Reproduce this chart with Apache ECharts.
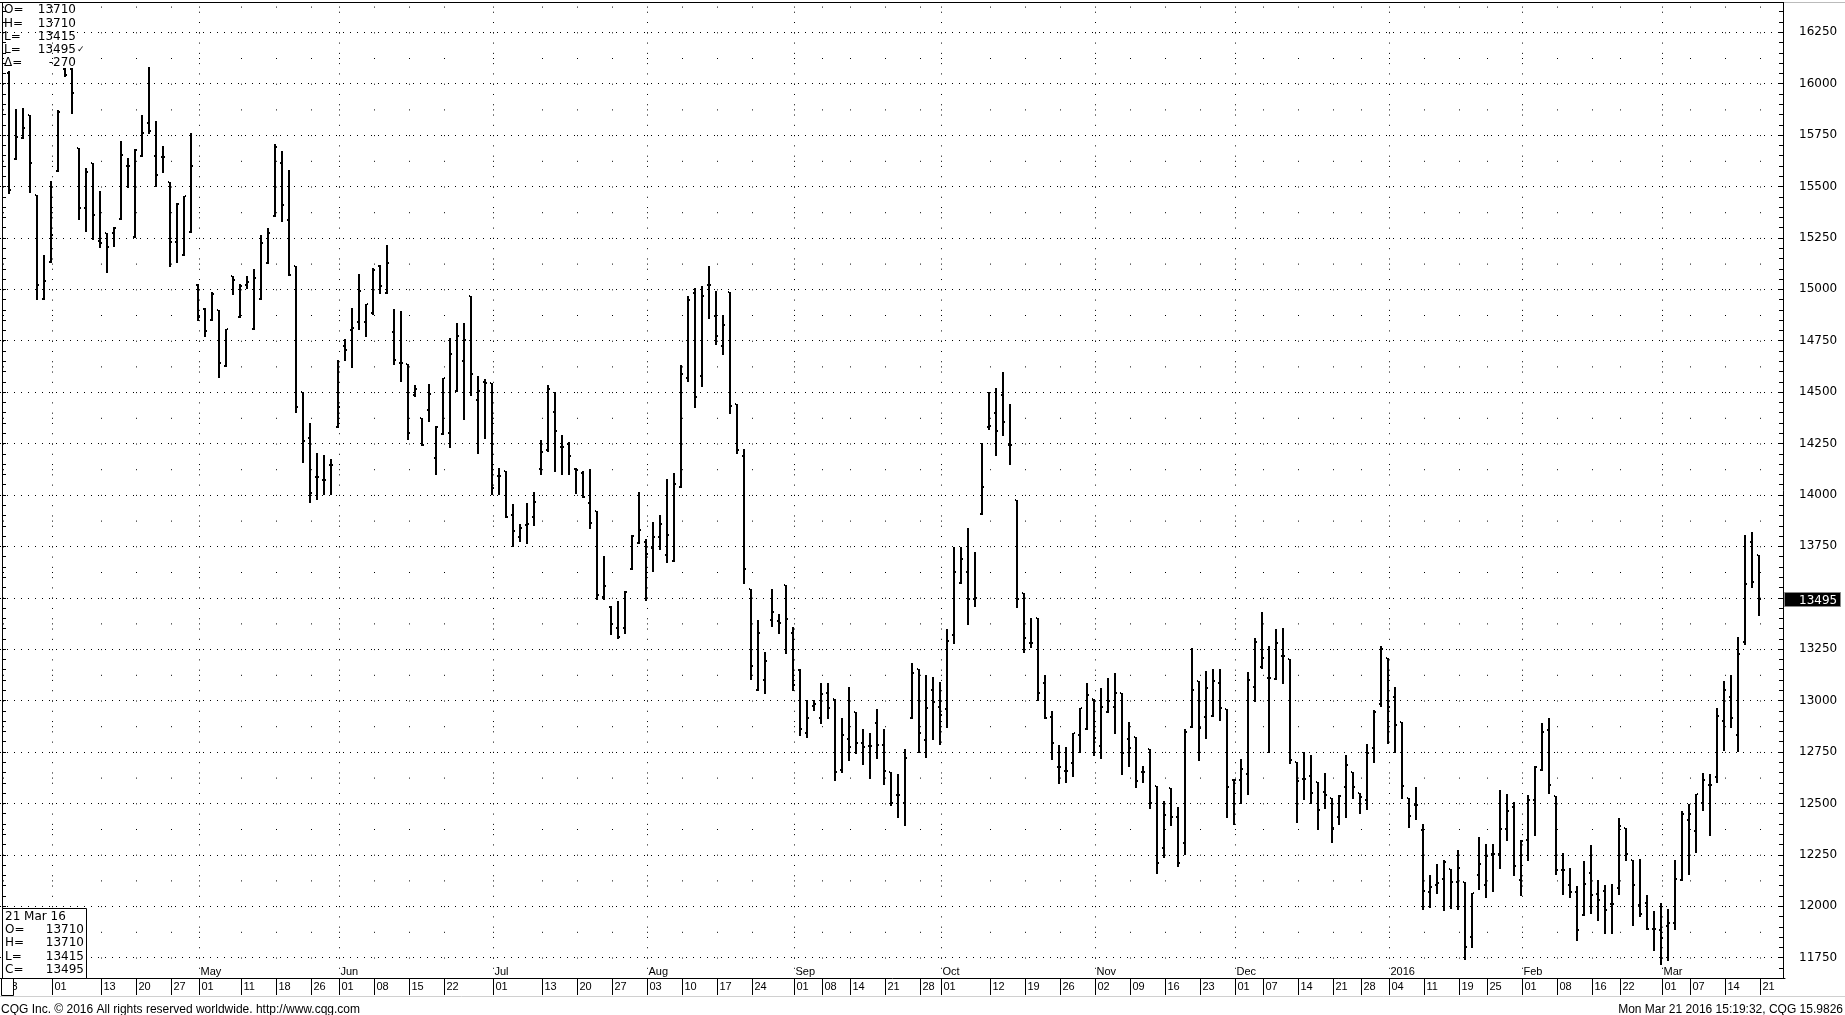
<!DOCTYPE html>
<html>
<head>
<meta charset="utf-8">
<title>CQG daily bars</title>
<script src="https://cdn.jsdelivr.net/npm/echarts@6.0.0/dist/echarts.min.js"></script>
<style>
  html, body { margin: 0; padding: 0; background: #fff; }
  #chart { width: 1845px; height: 1015px; }
</style>
</head>
<body>
<div id="chart"></div>
<script>
// exchange holidays inside the range (no bar on these days)
const holidays = ['2015-04-03', '2015-05-25', '2015-07-03', '2015-09-07', '2015-11-26',
  '2015-12-25', '2016-01-01', '2016-01-18', '2016-02-15'];

// one bar per trading day, 24 Mar 2015 .. 21 Mar 2016
const opens = [
  16051, 15633, 15735, 15848, 15458, 14951, 15134, 15576, 16071, 16071,
  15689, 15394, 15612, 15235, 15272, 15272, 15341, 15600, 15253, 15648,
  15807, 15648, 15645, 15521, 15229, 15167, 15280, 15020, 14905, 14853,
  14899, 14628, 15065, 14863, 15021, 14806, 14951, 15127, 15358, 15613,
  15337, 15114, 14502, 14275, 14089, 14073, 14146, 14332, 14722, 14803,
  14843, 14843, 14887, 15115, 14984, 14794, 14641, 14636, 14487, 14373,
  14414, 14181, 14296, 14303, 14505, 14652, 14966, 14462, 14551, 14543,
  14092, 14117, 13902, 13797, 13854, 13894, 14125, 14218, 14401, 14231,
  14248, 14125, 14109, 13959, 13923, 13505, 13456, 13355, 13355, 13639,
  13765, 13770, 13741, 13797, 13709, 13681, 14040, 14567, 14980, 14576,
  15021, 14871, 14722, 14985, 14440, 14187, 13541, 13051, 13099, 13391,
  13388, 13564, 13329, 13150, 12843, 12973, 12913, 13035, 13006, 12663,
  12813, 12946, 12793, 12779, 12893, 12784, 12654, 12541, 12503, 12914,
  13153, 12809, 13052, 12967, 12957, 13319, 13574, 13623, 13492, 13907,
  14332, 14400, 14486, 14242, 13975, 13525, 13282, 13400, 13087, 12922,
  12675, 12659, 12694, 12833, 12861, 13006, 12781, 12946, 12971, 13035,
  12813, 12825, 12651, 12763, 12586, 12284, 12573, 12435, 12306, 12873,
  13093, 12922, 12925, 13084, 12958, 12614, 12614, 12642, 13068, 13163,
  13108, 13103, 13217, 13201, 12703, 12617, 12635, 12606, 12557, 12528,
  12435, 12578, 12655, 12552, 12516, 12768, 12983, 13206, 13016, 12898,
  12525, 12492, 12370, 12071, 12103, 12134, 12182, 12118, 12118, 11850,
  12150, 12101, 12255, 12255, 12377, 12482, 12126, 12320, 12515, 12661,
  12858, 12536, 12174, 12101, 12069, 11956, 12159, 12061, 12072, 12012,
  12090, 12382, 12226, 12004, 12016, 11891, 11883, 11902, 11918, 12126,
  12421, 12366, 12502, 12588, 12628, 12899, 13017, 12831, 13285, 13771, 13710
];
const highs = [
  16064, 15877, 15882, 15848, 15458, 15167, 15527, 15870, 16075, 16075,
  15689, 15589, 15612, 15479, 15272, 15302, 15722, 15641, 15681, 15848,
  16083, 15818, 15697, 15521, 15419, 15455, 15759, 15024, 14907, 14985,
  14899, 14806, 15065, 15024, 15067, 15098, 15264, 15297, 15708, 15673,
  15581, 15114, 14502, 14349, 14203, 14195, 14174, 14657, 14758, 14908,
  15073, 14928, 15103, 15119, 15215, 14903, 14895, 14636, 14535, 14373,
  14538, 14336, 14571, 14763, 14836, 14836, 14966, 14576, 14564, 14543,
  14133, 14117, 13954, 13857, 13960, 14016, 14267, 14535, 14502, 14292,
  14259, 14130, 14117, 14125, 13923, 13704, 13460, 13485, 13534, 13806,
  14016, 13784, 13866, 13903, 14076, 14109, 14632, 14966, 15005, 15016,
  15114, 14992, 14876, 14985, 14440, 14223, 13541, 13391, 13237, 13541,
  13419, 13564, 13359, 13152, 13003, 13003, 13084, 13084, 13006, 12913,
  13065, 12946, 12863, 12844, 12958, 12861, 12654, 12642, 12764, 13185,
  13153, 13125, 13113, 13092, 13347, 13745, 13745, 13838, 13724, 14251,
  14502, 14519, 14597, 14440, 13975, 13525, 13400, 13400, 13125, 12947,
  12784, 12776, 12841, 12963, 13087, 13006, 13060, 13108, 13133, 13035,
  12895, 12825, 12682, 12763, 12586, 12511, 12573, 12484, 12860, 13255,
  13095, 13144, 13152, 13152, 12958, 12619, 12714, 13141, 13304, 13430,
  13266, 13348, 13353, 13201, 12703, 12751, 12735, 12606, 12646, 12528,
  12541, 12735, 12655, 12552, 12789, 12952, 13263, 13206, 13068, 12898,
  12525, 12578, 12402, 12152, 12204, 12226, 12182, 12275, 12118, 12064,
  12337, 12304, 12301, 12567, 12547, 12507, 12320, 12542, 12680, 12892,
  12917, 12536, 12260, 12187, 12096, 12220, 12296, 12126, 12101, 12106,
  12431, 12382, 12226, 12231, 12053, 11975, 12016, 11988, 12223, 12461,
  12499, 12547, 12649, 12645, 12965, 13095, 13123, 13309, 13803, 13820, 13710
];
const lows = [
  15470, 15633, 15735, 15475, 14951, 14951, 15134, 15576, 16037, 15859,
  15340, 15285, 15243, 15204, 15082, 15212, 15341, 15499, 15253, 15648,
  15762, 15503, 15569, 15115, 15134, 15167, 15280, 14853, 14774, 14853,
  14572, 14628, 14975, 14863, 15005, 14806, 14951, 15127, 15356, 15333,
  15070, 14401, 14158, 13964, 13980, 14003, 14003, 14332, 14657, 14624,
  14806, 14773, 14881, 14980, 14984, 14636, 14554, 14270, 14481, 14243,
  14362, 14101, 14296, 14231, 14505, 14368, 14486, 14202, 14275, 14003,
  14003, 13894, 13752, 13776, 13765, 13854, 14101, 14215, 14117, 14101,
  14101, 14011, 13992, 13838, 13492, 13492, 13322, 13303, 13330, 13639,
  13765, 13490, 13631, 13736, 13673, 13681, 14040, 14554, 14429, 14532,
  14859, 14733, 14685, 14400, 14203, 13570, 13103, 13051, 13038, 13362,
  13327, 13230, 13051, 12833, 12823, 12953, 12893, 12913, 12613, 12653,
  12713, 12743, 12693, 12621, 12719, 12594, 12492, 12432, 12394, 12914,
  12751, 12724, 12812, 12789, 12869, 13282, 13574, 13371, 13460, 13907,
  14323, 14196, 14291, 14152, 13453, 13238, 13262, 13003, 12914, 12714,
  12601, 12606, 12634, 12751, 12861, 12735, 12719, 12946, 12844, 12642,
  12683, 12578, 12603, 12476, 12159, 12237, 12394, 12197, 12254, 12873,
  12711, 12816, 12925, 12906, 12435, 12399, 12500, 12544, 12999, 13157,
  12751, 13103, 13084, 12694, 12411, 12520, 12500, 12373, 12476, 12314,
  12402, 12432, 12525, 12451, 12471, 12703, 12973, 12795, 12751, 12528,
  12386, 12422, 11984, 11994, 12063, 11980, 11993, 11988, 11745, 11802,
  12085, 12045, 12072, 12187, 12324, 12153, 12053, 12226, 12348, 12661,
  12550, 12158, 12061, 12045, 11834, 11956, 11967, 11934, 11870, 11870,
  12058, 12226, 11907, 11951, 11891, 11789, 11717, 11740, 11891, 12126,
  12158, 12264, 12466, 12345, 12604, 12761, 12871, 12753, 13277, 13552, 13415
];
const closes = [
  15483, 15740, 15784, 15616, 15021, 15042, 15264, 15863, 16041, 15957,
  15394, 15569, 15359, 15227, 15207, 15297, 15654, 15600, 15678, 15762,
  15772, 15556, 15645, 15232, 15414, 15455, 15600, 14865, 14795, 14977,
  14641, 14806, 15045, 15016, 15037, 15054, 15224, 15272, 15693, 15410,
  15070, 14426, 14264, 14011, 14089, 14073, 14146, 14430, 14706, 14812,
  14993, 14928, 15094, 15016, 15127, 14657, 14641, 14303, 14517, 14243,
  14491, 14329, 14571, 14686, 14774, 14754, 14588, 14505, 14543, 14032,
  14092, 13894, 13825, 13841, 13857, 13967, 14211, 14514, 14311, 14231,
  14190, 14119, 13992, 13862, 13513, 13557, 13371, 13311, 13526, 13801,
  13830, 13711, 13795, 13859, 13805, 14052, 14589, 14947, 14478, 14966,
  15021, 14771, 14827, 14432, 14219, 13638, 13168, 13329, 13194, 13432,
  13378, 13399, 13075, 12863, 12913, 12983, 13033, 12963, 12653, 12833,
  12773, 12793, 12775, 12779, 12784, 12659, 12500, 12541, 12720, 13133,
  12841, 12963, 12995, 12930, 13288, 13627, 13688, 13492, 13501, 14037,
  14337, 14312, 14356, 14242, 13492, 13303, 13282, 13035, 12914, 12792,
  12675, 12659, 12841, 12963, 13027, 12820, 12971, 12999, 13035, 12743,
  12768, 12611, 12651, 12500, 12208, 12443, 12435, 12208, 12845, 13051,
  12865, 13063, 13095, 12963, 12581, 12614, 12665, 13100, 13283, 13206,
  13108, 13279, 13217, 12711, 12611, 12617, 12552, 12467, 12541, 12381,
  12536, 12686, 12581, 12533, 12743, 12944, 13253, 12971, 12882, 12585,
  12440, 12492, 12074, 12095, 12111, 12215, 12118, 12188, 11802, 12064,
  12204, 12246, 12255, 12377, 12463, 12194, 12316, 12515, 12677, 12847,
  12588, 12174, 12174, 12069, 11883, 12107, 12053, 12032, 11980, 12012,
  12389, 12255, 12101, 11961, 11891, 11891, 11847, 11918, 12134, 12447,
  12447, 12547, 12612, 12588, 12923, 13053, 12917, 13225, 13565, 13577, 13495
];

// dates that get a "|dd" label on the time scale
const tickDates = ['2015-03-23', '2015-04-01', '2015-04-13', '2015-04-20', '2015-04-27',
  '2015-05-01', '2015-05-11', '2015-05-18', '2015-05-26', '2015-06-01', '2015-06-08',
  '2015-06-15', '2015-06-22', '2015-07-01', '2015-07-13', '2015-07-20', '2015-07-27',
  '2015-08-03', '2015-08-10', '2015-08-17', '2015-08-24', '2015-09-01', '2015-09-08',
  '2015-09-14', '2015-09-21', '2015-09-28', '2015-10-01', '2015-10-12', '2015-10-19',
  '2015-10-26', '2015-11-02', '2015-11-09', '2015-11-16', '2015-11-23', '2015-12-01',
  '2015-12-07', '2015-12-14', '2015-12-21', '2015-12-28', '2016-01-04', '2016-01-11',
  '2016-01-19', '2016-01-25', '2016-02-01', '2016-02-08', '2016-02-16', '2016-02-22',
  '2016-03-01', '2016-03-07', '2016-03-14', '2016-03-21'];
const monthStarts = ['2015-04-01', '2015-05-01', '2015-06-01', '2015-07-01', '2015-08-03',
  '2015-09-01', '2015-10-01', '2015-11-02', '2015-12-01', '2016-01-04', '2016-02-01', '2016-03-01'];
const monthNames = ['Apr', 'May', 'Jun', 'Jul', 'Aug', 'Sep', 'Oct', 'Nov', 'Dec', '2016', 'Feb', 'Mar'];

function tradingDays() {
  const out = [];
  const d = new Date(Date.UTC(2015, 2, 24));
  const end = Date.UTC(2016, 2, 21);
  while (d.getTime() <= end) {
    const s = d.toISOString().slice(0, 10);
    const wd = d.getUTCDay();
    if (wd !== 0 && wd !== 6 && holidays.indexOf(s) < 0) out.push(s);
    d.setUTCDate(d.getUTCDate() + 1);
  }
  return out;
}
const dates = tradingDays();
// one empty slot in front (23 Mar) and a few after the last bar
const categories = ['2015-03-23'].concat(dates, ['pad1', 'pad2', 'pad3']);
const bars = dates.map((d, i) => [i + 1, opens[i], highs[i], lows[i], closes[i]]);

const tickSet = new Set(tickDates);
const monthSet = new Set(monthStarts);
const last = dates.length - 1;

const numFont = '"DejaVu Sans", sans-serif';
const smallFont = '"Liberation Sans", Arial, sans-serif';

function txt(id, x, y, text, align, size, font, color) {
  return {
    type: 'text', id: id, x: x, y: y, z: 110,
    style: {
      text: text, fill: color || '#000', textAlign: align || 'left',
      verticalAlign: 'middle', textVerticalAlign: 'middle',
      font: (size || 12) + 'px ' + (font || numFont)
    }
  };
}
function line(id, x1, y1, x2, y2, color) {
  return { type: 'line', id: id, z: 105, shape: { x1: x1, y1: y1, x2: x2, y2: y2 },
    style: { stroke: color || '#000', lineWidth: 1 } };
}

const graphics = [
  // cover everything below the time row
  { type: 'rect', id: 'footBg', z: 100, shape: { x: 0, y: 997, width: 1845, height: 18 }, style: { fill: '#fff' } },
  { type: 'rect', id: 'rightBg', z: 100, shape: { x: 1777, y: 979, width: 68, height: 36 }, style: { fill: '#fff' } },
  { type: 'rect', id: 'topBg', z: 100, shape: { x: 0, y: 0, width: 1845, height: 2 }, style: { fill: '#fff' } },
  line('frameTop', 0, 2.5, 1784, 2.5, '#000'),
  line('frameTop2', 1784, 2.5, 1845, 2.5, '#bbb'),
  line('frameLeft', 2.5, 2, 2.5, 978, '#000'),
  line('frameRight', 1783.5, 2, 1783.5, 978.5, '#000'),
  line('rowBottom', 0, 996.5, 1845, 996.5, '#d0d0d0'),
  // small box at the start of the time row
  { type: 'rect', id: 'startBox', z: 106, shape: { x: 1.5, y: 978.5, width: 12, height: 17 },
    style: { fill: '#fff', stroke: '#000', lineWidth: 1 } },
  // last-bar read-out, top left
  txt('tO', 4, 10, 'O='), txt('vO', 76, 10, String(opens[last]), 'right'),
  txt('tH', 4, 23.5, 'H='), txt('vH', 76, 23.5, String(highs[last]), 'right'),
  txt('tL', 4, 36.5, 'L='), txt('vL', 76, 36.5, String(lows[last]), 'right'),
  txt('tC', 4, 49.5, 'L='), txt('vC', 76, 49.5, String(closes[last]), 'right'),
  txt('tChk', 77, 50, '\u2713', 'left', 9),
  txt('tD', 4, 63, '\u0394='), txt('vD', 76, 63, '-270', 'right'),
  // date box, bottom left
  { type: 'rect', id: 'infoBox', z: 106, shape: { x: 2.5, y: 908.5, width: 84, height: 70 },
    style: { fill: '#fff', stroke: '#000', lineWidth: 1 } },
  txt('bDate', 5, 916.5, '21 Mar 16'),
  txt('bO', 5, 929.5, 'O='), txt('bvO', 84, 929.5, String(opens[last]), 'right'),
  txt('bH', 5, 943, 'H='), txt('bvH', 84, 943, String(highs[last]), 'right'),
  txt('bL', 5, 956.5, 'L='), txt('bvL', 84, 956.5, String(lows[last]), 'right'),
  txt('bC', 5, 970, 'C='), txt('bvC', 84, 970, String(closes[last]), 'right'),
  // footer
  txt('foot1', 1, 1009.5, 'CQG Inc. \u00a9 2016 All rights reserved worldwide. http://www.cqg.com', 'left', 12, smallFont),
  txt('foot2', 1843, 1009.5, 'Mon Mar 21 2016 15:19:32, CQG 15.9826', 'right', 12, smallFont)
];

// price scale: 0.2056 px per point, 16250 at y=32.3, 11750 at y=957.5
const yMin = 11500, yMax = 16407;

const chart = echarts.init(document.getElementById('chart'));
chart.setOption({
  animation: false,
  backgroundColor: '#fff',
  grid: [
    { left: 0, width: 1785, top: 0, height: 1009 },
    // frame grid for the time scale
    { left: 0, width: 1785, top: 3, height: 975 }
  ],
  xAxis: [
    { gridIndex: 0, type: 'category', data: categories, show: false },
    {
      gridIndex: 1, type: 'category', data: categories, position: 'bottom',
      axisLine: { show: true, lineStyle: { color: '#000', width: 1 } },
      axisTick: { show: true, alignWithLabel: true, length: 17, lineStyle: { color: '#000' },
        interval: (i, v) => tickSet.has(v) },
      axisLabel: {
        interval: (i, v) => tickSet.has(v),
        formatter: v => v.slice(8), align: 'left', padding: [0, 0, 0, 2], margin: 3,
        color: '#000', fontFamily: smallFont, fontSize: 11
      },
      splitLine: { show: true, alignWithLabel: true, interval: (i, v) => tickSet.has(v),
        lineStyle: { color: '#000', width: 1, type: [1, 24.7], dashOffset: 22.1 } }
    },
    {
      gridIndex: 1, type: 'category', data: categories, position: 'bottom',
      axisLine: { show: false }, axisTick: { show: false },
      axisLabel: {
        inside: true, margin: 1,
        interval: (i, v) => monthSet.has(v),
        formatter: v => monthNames[monthStarts.indexOf(v)] || '',
        align: 'left', padding: [0, 0, 0, 1],
        color: '#000', fontFamily: smallFont, fontSize: 11
      },
      splitLine: { show: true, alignWithLabel: true, interval: (i, v) => monthSet.has(v),
        lineStyle: { color: '#000', width: 1, type: [1, 9.28], dashOffset: 1.54 } }
    }
  ],
  yAxis: [
    {
      gridIndex: 0, type: 'value', min: yMin, max: yMax, interval: 250,
      position: 'right', offset: -2,
      axisLine: { show: false },
      axisTick: { show: true, inside: true, length: 4, lineStyle: { color: '#000' } },
      minorTick: { show: true, splitNumber: 5, length: 4, lineStyle: { color: '#000' } },
      axisLabel: {
        margin: 16, color: '#000', fontFamily: numFont, fontSize: 12,
        formatter: v => (v < 11750 || v > 16250) ? '' : String(v)
      },
      splitLine: { show: true, lineStyle: { color: '#000', width: 1, type: [1, 6] } }
    },
    {
      gridIndex: 0, type: 'value', min: yMin, max: yMax, interval: 250,
      position: 'left', offset: -2,
      axisLine: { show: false },
      axisTick: { show: true, inside: true, length: 4, lineStyle: { color: '#000' } },
      minorTick: { show: true, splitNumber: 5, length: 4, lineStyle: { color: '#000' } },
      axisLabel: { show: false },
      splitLine: { show: false }
    },
    { gridIndex: 1, type: 'value', show: false }
  ],
  series: [{
    type: 'custom',
    coordinateSystem: 'cartesian2d',
    xAxisIndex: 0, yAxisIndex: 0,
    data: bars,
    encode: { x: 0, y: [1, 2, 3, 4] },
    renderItem: function (params, api) {
      const idx = api.value(0);
      const xc = Math.round(api.coord([idx, api.value(2)])[0] - 1.2);
      const yo = Math.round(api.coord([idx, api.value(1)])[1]);
      const yh = Math.round(api.coord([idx, api.value(2)])[1]);
      const yl = Math.round(api.coord([idx, api.value(3)])[1]);
      const yc = Math.round(api.coord([idx, api.value(4)])[1]);
      return {
        type: 'group',
        children: [
          { type: 'rect', shape: { x: xc - 1, y: yh, width: 2, height: Math.max(1, yl - yh + 1) }, style: { fill: '#000' } },
          { type: 'rect', shape: { x: xc - 2, y: yo - 1, width: 1, height: 2 }, style: { fill: '#000' } },
          { type: 'rect', shape: { x: xc + 1, y: yc - 1, width: 1, height: 2 }, style: { fill: '#000' } }
        ]
      };
    }
  }],
  graphic: graphics
});

// last price marker on the price scale
const py = chart.convertToPixel({ seriesIndex: 0 }, [last + 1, closes[last]])[1];
chart.setOption({
  graphic: [
    { type: 'rect', id: 'priceBox', z: 110, shape: { x: 1784.5, y: Math.round(py) - 6.5, width: 56, height: 14 },
      style: { fill: '#000', stroke: '#888', lineWidth: 1 } },
    txt('priceTxt', 1799, Math.round(py) + 1.5, String(closes[last]), 'left', 12, numFont, '#fff')
  ]
});
</script>
</body>
</html>
